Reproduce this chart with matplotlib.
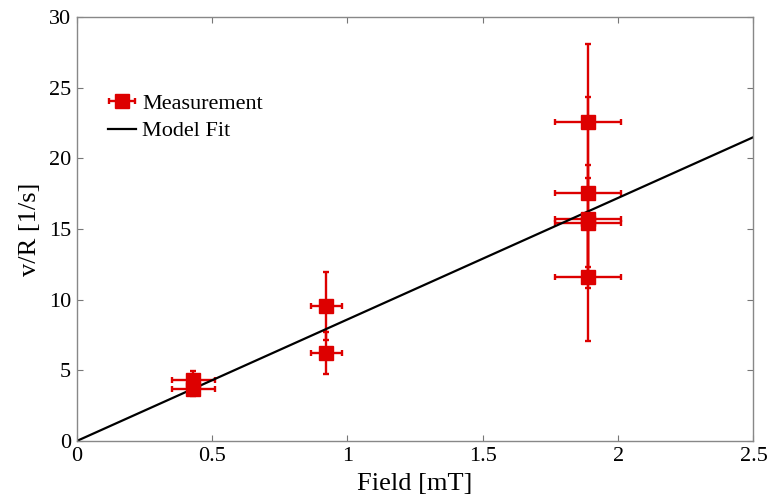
import numpy as np
import matplotlib.pyplot as plt
from matplotlib.legend_handler import HandlerErrorbar

plt.rcParams['font.family'] = ['Liberation Serif', 'DejaVu Serif']

# measurements
field = [0.431, 0.431, 0.922, 0.922, 1.888, 1.888, 1.888, 1.888, 1.888]
field_err = [0.078, 0.078, 0.057, 0.057, 0.121, 0.121, 0.121, 0.121, 0.121]
vr = [4.32, 3.68, 9.55, 6.23, 22.6, 17.57, 15.7, 15.45, 11.63]
vr_err = [0.63, 0.5, 2.4, 1.5, 5.5, 6.75, 3.83, 3.14, 4.53]

# model fit: straight line through origin
slope = 8.6
fit_x = [0, 2.5]

fig = plt.figure(figsize=(7.72, 4.99), dpi=100)
ax = fig.add_axes([0.0994, 0.1162, 0.8766, 0.8498])

red = '#dd0000'
meas = ax.errorbar(field, vr, xerr=field_err, yerr=vr_err, fmt='s', color=red,
                   ms=9.5, elinewidth=1.7, capsize=2.2, capthick=1.7, label='Measurement')
fit, = ax.plot(fit_x, slope * np.array(fit_x), color='black', lw=1.6, label='Model Fit')

ax.set_xlim(0, 2.5)
ax.set_ylim(0, 30)
ax.set_xticks([0, 0.5, 1, 1.5, 2, 2.5])
ax.set_xticklabels(['0', '0.5', '1', '1.5', '2', '2.5'])
ax.set_yticks([0, 5, 10, 15, 20, 25, 30])
ax.tick_params(direction='in', top=True, right=True, length=4, width=0.8,
               color='#777777', labelsize=16, pad=4)
for s in ax.spines.values():
    s.set_color('#888888')
    s.set_linewidth(1.0)

ax.set_xlabel('Field [mT]', fontsize=19, labelpad=5)
ax.set_ylabel('v/R [1/s]', fontsize=19, labelpad=6)

ax.legend([meas, fit], ['Measurement', 'Model Fit'], loc='upper left',
          bbox_to_anchor=(0.033, 0.84), frameon=False,
          fontsize=16, handlelength=1.25, handletextpad=0.3, labelspacing=0.3,
          borderaxespad=0,
          handler_map={type(meas): HandlerErrorbar(xerr_size=0.6, yerr_size=0, numpoints=1)})

fig.savefig('out.png', dpi=100)
